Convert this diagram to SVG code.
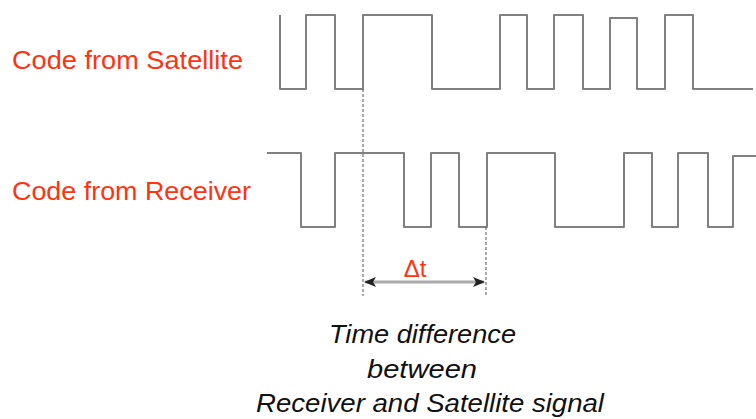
<svg xmlns="http://www.w3.org/2000/svg" width="756" height="419" viewBox="0 0 756 419">
<defs>
<style>
.wave{fill:none;stroke:#808080;stroke-width:2;stroke-linejoin:round}
.dash{fill:none;stroke:#555;stroke-width:1;stroke-dasharray:3,2}
.lbl{font-family:"Liberation Sans",Arial,sans-serif;font-size:26px;fill:#ff3311}
.cap{font-family:"Liberation Sans",Arial,sans-serif;font-size:26px;font-style:italic;fill:#111}
</style>
<marker id="ah" viewBox="0 0 12 10" refX="11" refY="5" markerWidth="12" markerHeight="10" markerUnits="userSpaceOnUse" orient="auto-start-reverse">
<path d="M0,0 L12,5 L0,10 L3,5 Z" fill="#222"/>
</marker>
</defs>
<rect width="756" height="419" fill="#fff"/>
<g id="label-satellite"><text class="lbl" x="12" y="69" textLength="231" lengthAdjust="spacingAndGlyphs">Code from Satellite</text></g>
<g id="label-receiver"><text class="lbl" x="12" y="200" textLength="239" lengthAdjust="spacingAndGlyphs">Code from Receiver</text></g>
<g id="wave-satellite">
<path class="wave" d="M280,15 V89 H306 V15 H335 V89 H363 V15 H432 V89 H500 V15 H527 V89 H554 V15 H583 V89 H610 V18 H637 V89 H665 V15 H693 V89 H753"/>
</g>
<g id="wave-receiver">
<path class="wave" d="M267,153 H301 V227 H335 V153 H404 V227 H431 V153 H459 V227 H487 V153 H555 V227 H624 V153 H652 V227 H678 V153 H708 V227 H733 V156 H756"/>
</g>
<g id="connectors">
<line class="dash" x1="363" y1="89" x2="363" y2="296"/>
<line class="dash" x1="486" y1="227" x2="486" y2="296"/>
<line x1="365" y1="282" x2="484" y2="282" stroke="#aaa" stroke-width="3" marker-start="url(#ah)" marker-end="url(#ah)"/>
</g>
<g id="label-dt"><text x="415" y="277" font-family="'Liberation Sans',Arial,sans-serif" font-size="24" fill="#ff3311" text-anchor="middle">Δt</text></g>
<g id="caption">
<text class="cap" x="329" y="343" textLength="187" lengthAdjust="spacingAndGlyphs">Time difference</text>
<text class="cap" x="367" y="378" textLength="110" lengthAdjust="spacingAndGlyphs">between</text>
<text class="cap" x="256" y="412" textLength="348" lengthAdjust="spacingAndGlyphs">Receiver and Satellite signal</text>
</g>
</svg>
